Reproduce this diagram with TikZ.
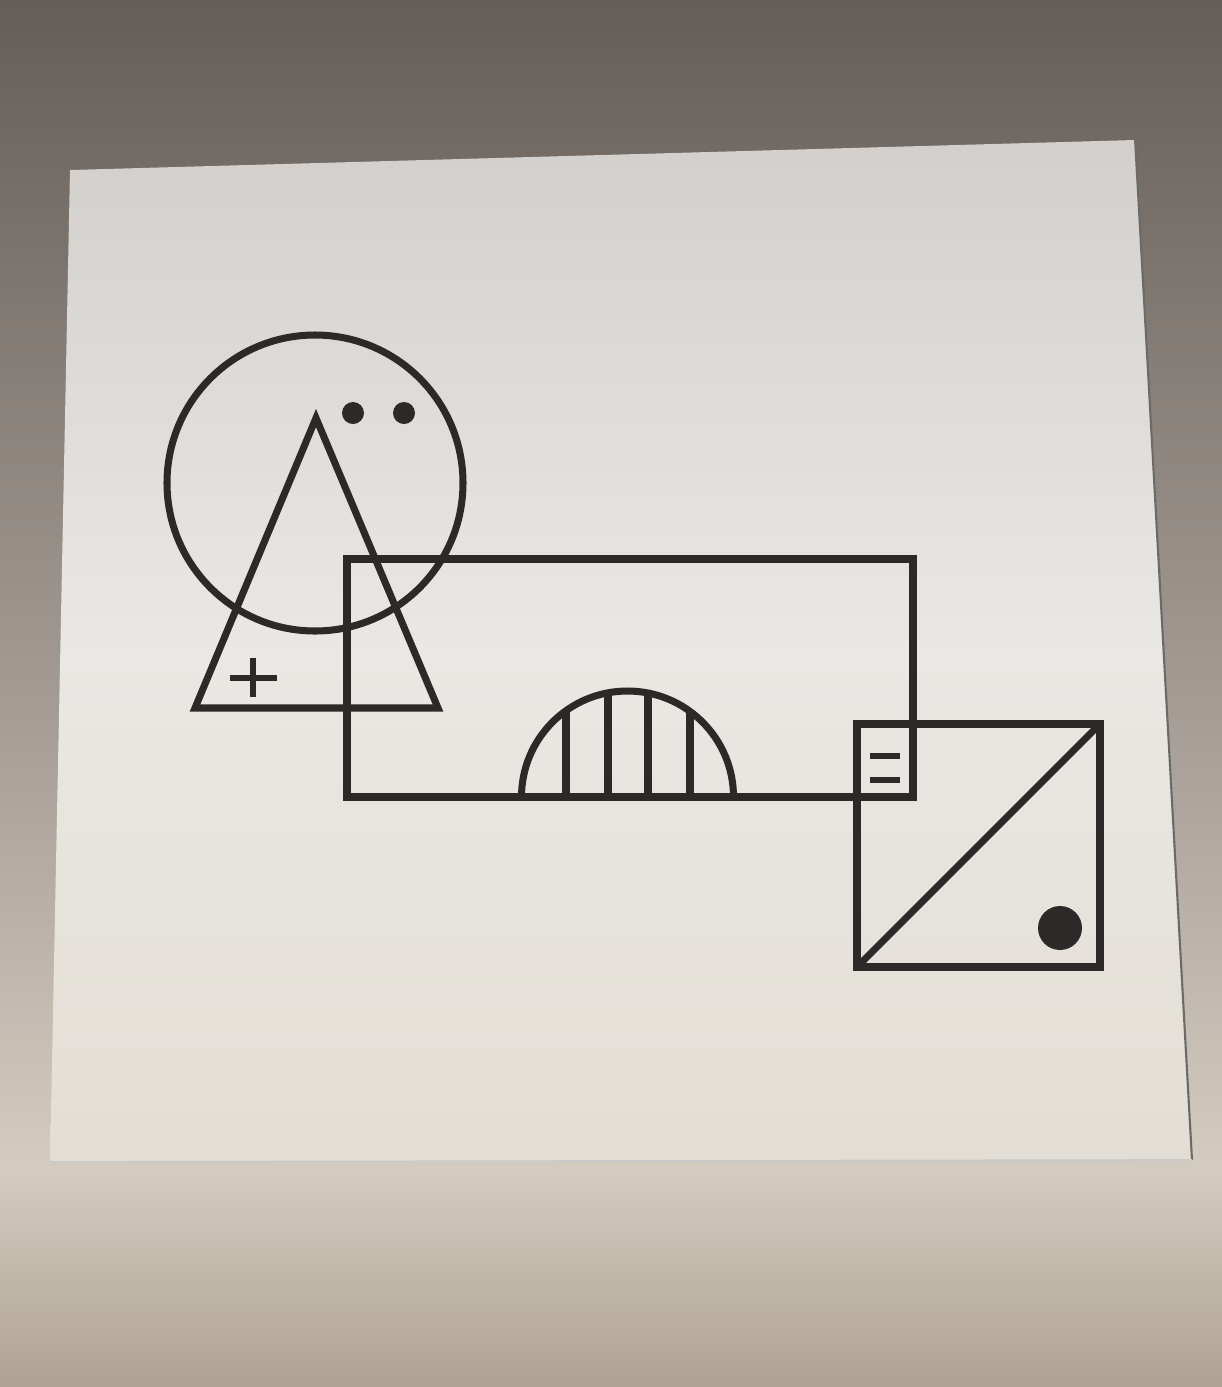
\documentclass[tikz,border=0pt]{standalone}
\usepackage{tikz}
\definecolor{ink}{HTML}{2B2A28}
\definecolor{walltop}{HTML}{655D57}
\definecolor{wallmid}{HTML}{A39B94}
\definecolor{walllow}{HTML}{D4CCC0}
\definecolor{wallbot}{HTML}{AEA292}
\definecolor{papertop}{HTML}{D2CFCC}
\definecolor{papermid}{HTML}{EAE8E4}
\definecolor{paperbot}{HTML}{E3DED5}
\usetikzlibrary{calc}

\begin{document}
\begin{tikzpicture}[x=0.01cm,y=-0.01cm,
  figline/.style={draw=ink,line width=2pt,line join=miter},
  blob/.style={fill=ink,draw=none}]
\useasboundingbox (0,0) rectangle (1222,1387);
% photo background and sheet
\shade[top color=walltop,bottom color=wallmid] (0,0) rectangle (1222,700);
\shade[top color=wallmid,bottom color=walllow] (0,699) rectangle (1222,1170);
\shade[top color=walllow,bottom color=wallbot] (0,1169) rectangle (1222,1387);
\shade[top color=papertop,bottom color=paperbot,middle color=papermid]
  (70,170) -- (1135,140) -- (1192,1160) -- (50,1162) -- cycle;
\draw[ink!70,line width=0.6pt] (1135,138) -- (1192,1160);
\draw[ink!25,line width=0.5pt] (50,1162) -- (1192,1160);
% circle with triangle
\coordinate (cc) at (315,483);
\draw[figline] (cc) circle[radius=148];
\coordinate (apex) at (316,418);
\coordinate (bl) at (195,708);
\coordinate (br) at (438,708);
\draw[figline] (apex) -- (bl) -- (br) -- cycle;
\fill[blob] (353,413) circle[radius=11];
\fill[blob] (404,413) circle[radius=11];
\draw[figline,line width=1.6pt] (230,678) -- (277,678) (253,658) -- (253,697);
% big rectangle
\coordinate (ra) at (347,559);
\coordinate (rb) at (913,797);
\draw[figline] (ra) rectangle (rb);
% half disc with bars
\coordinate (hc) at (627.5,797);
\draw[figline] ($(hc)+(-106,0)$) arc[start angle=180,end angle=360,radius=106];
\begin{scope}
  \clip ($(hc)+(-106,0)$) arc[start angle=180,end angle=360,radius=106] -- cycle;
  \foreach \xb in {566,608,648,690}
    \draw[figline] (\xb,800) -- (\xb,680);
\end{scope}
% square with diagonal
\coordinate (sa) at (857,724);
\coordinate (sb) at (1100,967);
\draw[figline] (sa) rectangle (sb);
\draw[figline] (sa |- sb) -- (sb |- sa);
\fill[blob] (1060,928) circle[radius=22];
\draw[ink,line width=1.5pt] (870,756) -- (900,756) (870,780) -- (900,780);
\end{tikzpicture}
\end{document}
